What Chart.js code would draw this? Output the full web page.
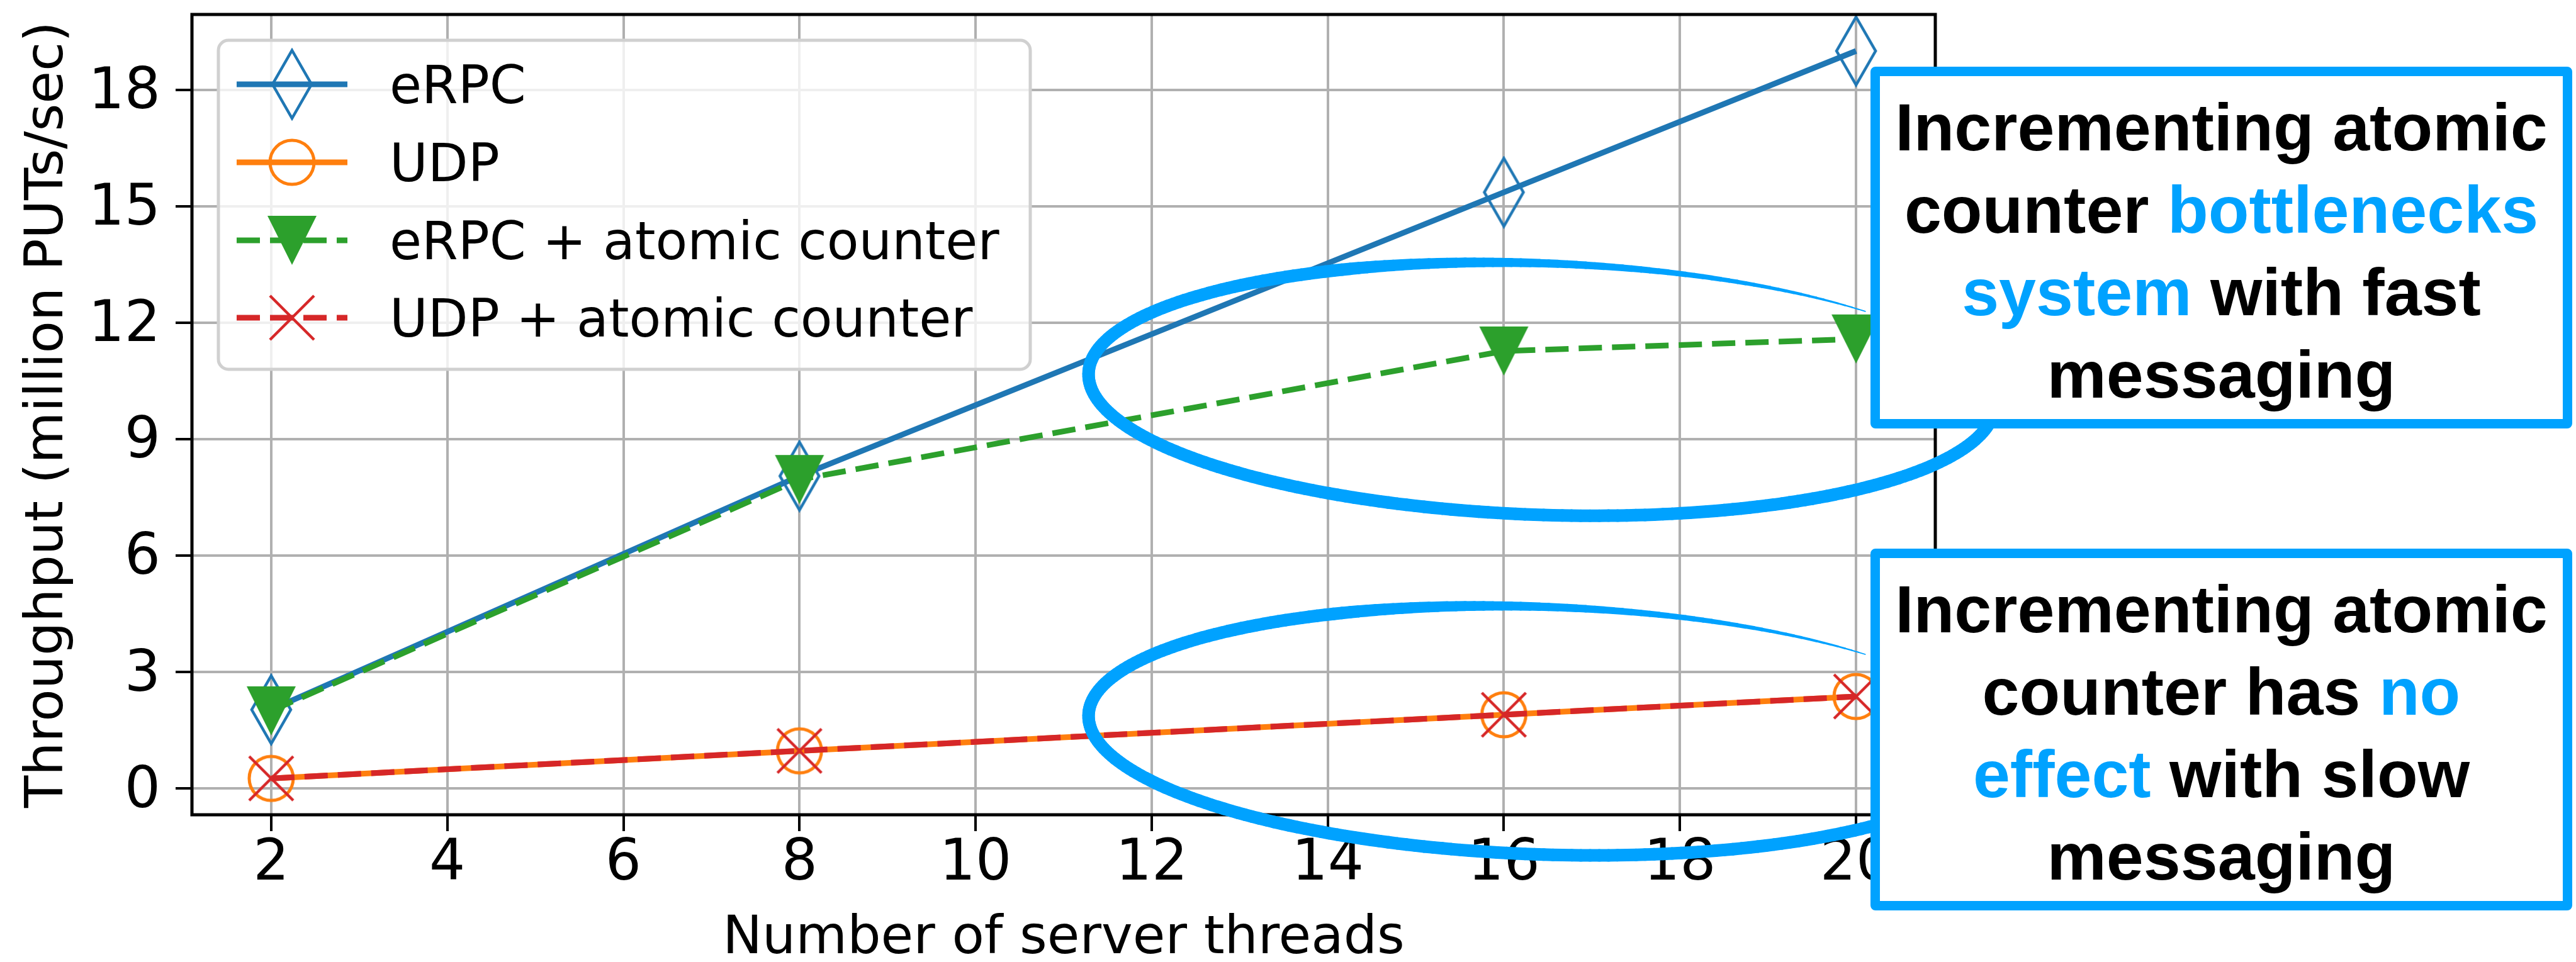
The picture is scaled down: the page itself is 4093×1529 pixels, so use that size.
<!DOCTYPE html>
<html>
<head>
<meta charset="utf-8">
<script src="https://cdn.jsdelivr.net/npm/chart.js@4.4.1/dist/chart.umd.min.js"></script>
<style>
  html, body { margin: 0; padding: 0; background: #fff; }
  body { width: 4093px; height: 1529px; position: relative; overflow: hidden; }
  #chart { position: absolute; left: 0; top: 0; }
  .note {
    position: absolute; left: 2972px; width: 1115px; height: 575px;
    box-sizing: border-box; border: 15px solid #00a2ff; border-radius: 8px;
    background: #fff; color: #000; text-align: center;
    font-family: "Liberation Sans", Arial, sans-serif; font-weight: bold;
    font-size: 106px; line-height: 131px; padding-top: 16px;
  }
  .note .hl { color: #00a2ff; }
</style>
</head>
<body>
<canvas id="chart" width="4093" height="1529"></canvas>
<div class="note" style="top:106px">Incrementing atomic<br>counter <span class="hl">bottlenecks</span><br><span class="hl">system</span> with fast<br>messaging</div>
<div class="note" style="top:872px">Incrementing atomic<br>counter has <span class="hl">no</span><br><span class="hl">effect</span> with slow<br>messaging</div>
<script>
// data
const threads = [2, 8, 16, 20];
const erpc = [2.03, 8.05, 15.36, 19.0];
const udp = [0.26, 0.97, 1.90, 2.37];
const erpcAtomic = [2.0, 7.96, 11.27, 11.58];
const udpAtomic = [0.26, 0.97, 1.90, 2.37];
const seriesNames = ['eRPC', 'UDP', 'eRPC + atomic counter', 'UDP + atomic counter'];
const xTicks = [2, 4, 6, 8, 10, 12, 14, 16, 18, 20];
const yTicks = [0, 3, 6, 9, 12, 15, 18];

const BLUE = '#1f77b4', ORANGE = '#ff7f0e', GREEN = '#2ca02c', RED = '#d62728';
const NOTE = '#00a2ff';

// marker images (matplotlib style 'd', 'o', 'v', 'x')
function makeMarker(w, h, draw) {
  const c = document.createElement('canvas');
  c.width = w; c.height = h;
  draw(c.getContext('2d'), w, h);
  return c;
}
const thinDiamond = makeMarker(72, 116, (g, w, h) => {
  g.strokeStyle = BLUE; g.lineWidth = 4.5;
  g.beginPath();
  g.moveTo(w / 2, 4); g.lineTo(w / 2 + 31, h / 2);
  g.lineTo(w / 2, h - 4); g.lineTo(w / 2 - 31, h / 2);
  g.closePath(); g.stroke();
});
const openCircle = makeMarker(80, 80, (g, w, h) => {
  g.strokeStyle = ORANGE; g.lineWidth = 5;
  g.beginPath(); g.arc(w / 2, h / 2, 35, 0, Math.PI * 2); g.stroke();
});
const triDown = makeMarker(80, 80, (g, w, h) => {
  g.fillStyle = GREEN;
  g.beginPath(); g.moveTo(1, 1); g.lineTo(79, 1); g.lineTo(40, 79); g.closePath(); g.fill();
});
const xMark = makeMarker(76, 76, (g, w, h) => {
  g.strokeStyle = RED; g.lineWidth = 4.5;
  g.beginPath();
  g.moveTo(3, 3); g.lineTo(73, 73);
  g.moveTo(73, 3); g.lineTo(3, 73);
  g.stroke();
});

function pts(ys) { return threads.map((x, i) => ({ x: x, y: ys[i] })); }

const series = [
  { name: seriesNames[0], data: erpc, color: BLUE, dash: [], marker: thinDiamond, order: 4 },
  { name: seriesNames[1], data: udp, color: ORANGE, dash: [], marker: openCircle, order: 3 },
  { name: seriesNames[2], data: erpcAtomic, color: GREEN, dash: [37, 16], marker: triDown, order: 2 },
  { name: seriesNames[3], data: udpAtomic, color: RED, dash: [37, 16], marker: xMark, order: 1 }
];

// frame + legend drawn over the lines
const frameLegend = {
  id: 'frameLegend',
  afterDatasetsDraw(chart) {
    const ctx = chart.ctx, a = chart.chartArea;
    ctx.save();
    ctx.strokeStyle = '#000'; ctx.lineWidth = 5;
    ctx.strokeRect(a.left, a.top, a.right - a.left, a.bottom - a.top);

    // legend box
    const bx = 347, by = 64, bw = 1290, bh = 523, r = 16;
    ctx.beginPath();
    ctx.roundRect(bx, by, bw, bh, r);
    ctx.fillStyle = 'rgba(255,255,255,0.8)';
    ctx.fill();
    ctx.strokeStyle = '#d0d0d0'; ctx.lineWidth = 5;
    ctx.stroke();

    const rows = [134, 258, 382, 505];
    ctx.font = '83px "DejaVu Sans"';
    ctx.textBaseline = 'alphabetic';
    ctx.textAlign = 'left';
    series.forEach((s, i) => {
      const y = rows[i];
      ctx.strokeStyle = s.color; ctx.lineWidth = 9;
      ctx.setLineDash(s.dash);
      ctx.beginPath(); ctx.moveTo(376, y); ctx.lineTo(552, y); ctx.stroke();
      ctx.setLineDash([]);
      ctx.drawImage(s.marker, 464 - s.marker.width / 2, y - s.marker.height / 2);
      ctx.fillStyle = '#000';
      ctx.fillText(s.name, 619, y + 30);
    });
    ctx.restore();
  }
};

// hand drawn ellipses, placed in data coordinates
const ellipses = [
  { cx: 16.43, cy: 10.29, rx: 5.15, ry: 3.24 },
  { cx: 16.43, cy: 1.49, rx: 5.15, ry: 3.19 }
];
const handEllipses = {
  id: 'handEllipses',
  afterDraw(chart) {
    const ctx = chart.ctx, xs = chart.scales.x, ys = chart.scales.y;
    ctx.save();
    ctx.strokeStyle = NOTE;
    ctx.lineCap = 'round';
    ellipses.forEach(e => {
      const cx = xs.getPixelForValue(e.cx), cy = ys.getPixelForValue(e.cy);
      const rx = xs.getPixelForValue(e.cx + e.rx) - cx;
      const ry = cy - ys.getPixelForValue(e.cy + e.ry);
      const rot = 2 * Math.PI / 180;
      const at = t => {
        const ex = rx * Math.cos(t), ey = ry * Math.sin(t);
        return { x: cx + ex * Math.cos(rot) - ey * Math.sin(rot), y: cy + ex * Math.sin(rot) + ey * Math.cos(rot) };
      };
      const t0 = -Math.PI / 4, t1 = t0 - Math.PI * 2 * 0.98, n = 300;
      let prev = at(t0);
      for (let i = 1; i <= n; i++) {
        const s = i / n;
        const p = at(t0 + (t1 - t0) * s);
        ctx.lineWidth = Math.min(20, 1.5 + 90 * s);
        ctx.beginPath(); ctx.moveTo(prev.x, prev.y); ctx.lineTo(p.x, p.y); ctx.stroke();
        prev = p;
      }
    });
    ctx.restore();
  }
};

const tickFont = { family: 'DejaVu Sans', size: 90 };
const titleFont = { family: 'DejaVu Sans', size: 84, lineHeight: 1.2 };

new Chart(document.getElementById('chart'), {
  type: 'line',
  data: {
    datasets: series.map(s => ({
      label: s.name,
      data: pts(s.data),
      borderColor: s.color,
      borderWidth: 9,
      borderDash: s.dash,
      pointStyle: s.marker,
      pointRadius: 5,
      pointHoverRadius: 5,
      fill: false,
      tension: 0,
      order: s.order
    }))
  },
  options: {
    responsive: false,
    animation: false,
    devicePixelRatio: 1,
    layout: { padding: { left: 0, top: 23, right: 1018, bottom: 0 } },
    plugins: { legend: { display: false }, tooltip: { enabled: false } },
    scales: {
      x: {
        type: 'linear', min: 1.1, max: 20.9,
        afterBuildTicks: s => { s.ticks = xTicks.map(v => ({ value: v })); },
        afterFit: s => { s.height = 234; s.paddingLeft = 0; s.paddingRight = 0; },
        grid: { color: '#b0b0b0', lineWidth: 4, tickLength: 26, tickColor: '#000', tickWidth: 4 },
        border: { display: false },
        ticks: { font: tickFont, color: '#000', padding: 0, maxRotation: 0, autoSkip: false },
        title: { display: true, text: 'Number of server threads', font: titleFont, color: '#000', padding: { top: 0, bottom: -15 } }
      },
      y: {
        type: 'linear', min: -0.677, max: 19.94,
        afterBuildTicks: s => { s.ticks = yTicks.map(v => ({ value: v })); },
        afterFit: s => { s.width = 305; s.paddingTop = 0; s.paddingBottom = 0; },
        grid: { color: '#b0b0b0', lineWidth: 4, tickLength: 26, tickColor: '#000', tickWidth: 4 },
        border: { display: false },
        ticks: { font: tickFont, color: '#000', padding: 24, labelOffset: 6, autoSkip: false },
        title: { display: true, text: 'Throughput (million PUTs/sec)', font: titleFont, color: '#000', padding: { top: 27, bottom: 0 } }
      }
    }
  },
  plugins: [frameLegend, handEllipses]
});
</script>
</body>
</html>
